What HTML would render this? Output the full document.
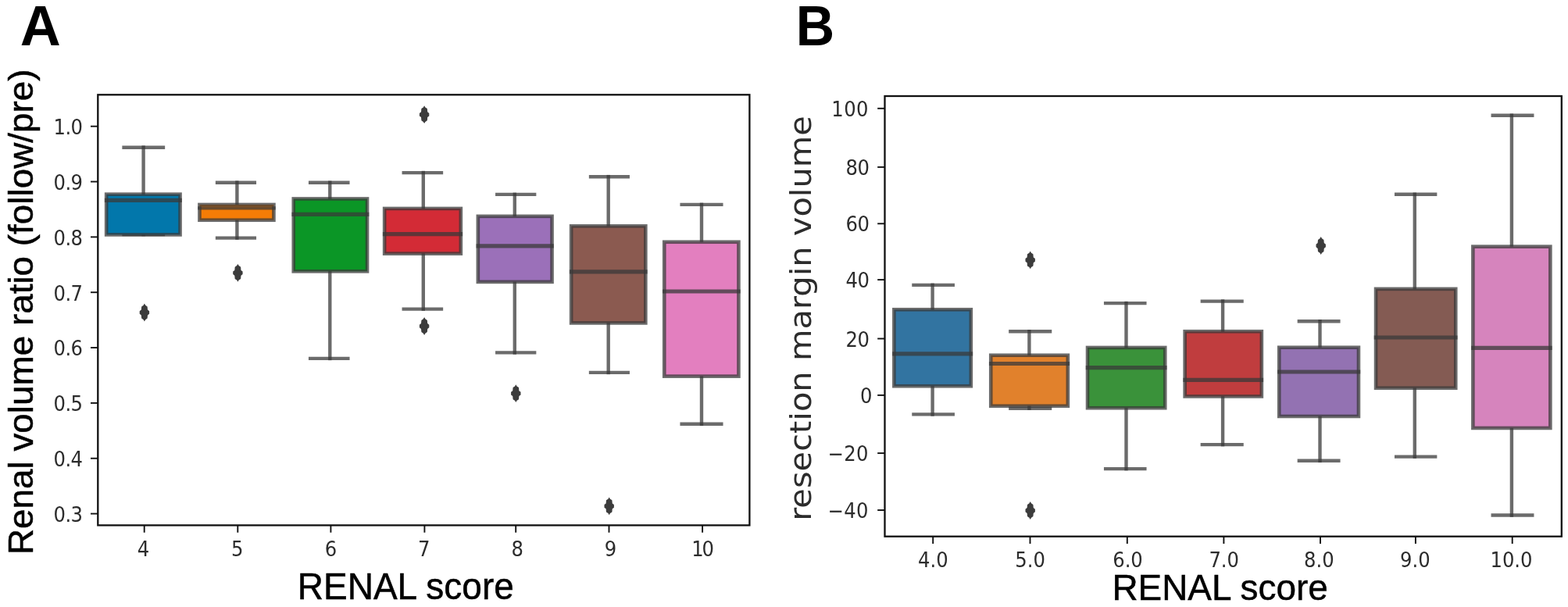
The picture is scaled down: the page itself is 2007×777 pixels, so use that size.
<!DOCTYPE html>
<html lang="en">
<head>
<meta charset="utf-8">
<title>Box plots: RENAL score</title>
<style>
html,body{margin:0;padding:0;background:#fff;}
body{width:2007px;height:777px;overflow:hidden;}
svg{display:block;}
.dj{font-family:"DejaVu Sans","Liberation Sans",sans-serif;fill:#2c2c2c;}
.ar{font-family:"Liberation Sans",Arial,Helvetica,sans-serif;fill:#000;}
.b{font-weight:bold;}
.bl{filter:blur(0.5px);}
.bf{filter:blur(0.4px);}
.bt{filter:blur(0.55px);}
</style>
</head>
<body>
<svg width="2007" height="777" viewBox="0 0 2007 777">
<rect width="2007" height="777" fill="#fff"/>
<g class="bl">
<g stroke="#3a3a3a" stroke-width="4.4" stroke-opacity="0.75" fill="none">
<line x1="183.6" y1="186.4" x2="183.6" y2="250.95"/>
<line x1="183.6" y1="298.15" x2="183.6" y2="302.3"/>
<line x1="156.35" y1="188.7" x2="211.15" y2="188.7"/>
<line x1="156.35" y1="300" x2="211.15" y2="300"/>
</g>
<rect x="136.15" y="248.65" width="94.4" height="51.8" fill="#0277ab" stroke="#3a3a3a" stroke-width="4.6" stroke-opacity="0.75"/>
<line x1="133.85" y1="256.3" x2="232.85" y2="256.3" stroke="#3a3a3a" stroke-width="5.2" stroke-opacity="0.75"/>
<path d="M184.9 388.6 L186.2 390.8 L188.6 392.4 L189 396.6 L191.1 398.2 L191.1 401.8 L189 403.4 L188.6 407.6 L186.2 409.2 L184.9 411.4 L183.6 409.2 L181.2 407.6 L180.8 403.4 L178.7 401.8 L178.7 398.2 L180.8 396.6 L181.2 392.4 L183.6 390.8 Z" fill="#3c3c3c"/>
<g stroke="#3a3a3a" stroke-width="4.4" stroke-opacity="0.75" fill="none">
<line x1="303.4" y1="231.4" x2="303.4" y2="264.25"/>
<line x1="303.4" y1="279.45" x2="303.4" y2="306.9"/>
<line x1="275.85" y1="233.7" x2="328.05" y2="233.7"/>
<line x1="275.85" y1="304.6" x2="328.05" y2="304.6"/>
</g>
<rect x="255.45" y="261.95" width="95" height="19.8" fill="#f57c06" stroke="#3a3a3a" stroke-width="4.6" stroke-opacity="0.75"/>
<line x1="253.15" y1="266.4" x2="352.75" y2="266.4" stroke="#3a3a3a" stroke-width="4.4" stroke-opacity="0.75"/>
<path d="M304.4 337.9 L305.7 340.1 L308.1 341.7 L308.5 345.9 L310.6 347.5 L310.6 351.1 L308.5 352.7 L308.1 356.9 L305.7 358.5 L304.4 360.7 L303.1 358.5 L300.7 356.9 L300.3 352.7 L298.2 351.1 L298.2 347.5 L300.3 345.9 L300.7 341.7 L303.1 340.1 Z" fill="#3c3c3c"/>
<g stroke="#3a3a3a" stroke-width="4.4" stroke-opacity="0.75" fill="none">
<line x1="422.3" y1="231.5" x2="422.3" y2="256.75"/>
<line x1="422.3" y1="345.05" x2="422.3" y2="461.2"/>
<line x1="394.95" y1="233.8" x2="447.55" y2="233.8"/>
<line x1="394.95" y1="458.9" x2="447.55" y2="458.9"/>
</g>
<rect x="375.75" y="254.45" width="94.3" height="92.9" fill="#0b9626" stroke="#3a3a3a" stroke-width="4.6" stroke-opacity="0.75"/>
<line x1="373.45" y1="274.4" x2="472.35" y2="274.4" stroke="#3a3a3a" stroke-width="5.2" stroke-opacity="0.75"/>
<g stroke="#3a3a3a" stroke-width="4.4" stroke-opacity="0.75" fill="none">
<line x1="541.8" y1="218.8" x2="541.8" y2="269.25"/>
<line x1="541.8" y1="322.35" x2="541.8" y2="397.9"/>
<line x1="514.55" y1="221.1" x2="567.15" y2="221.1"/>
<line x1="514.55" y1="395.6" x2="567.15" y2="395.6"/>
</g>
<rect x="492.15" y="266.95" width="97.7" height="57.7" fill="#d32b36" stroke="#3a3a3a" stroke-width="4.6" stroke-opacity="0.75"/>
<line x1="489.85" y1="299.6" x2="592.15" y2="299.6" stroke="#3a3a3a" stroke-width="5.2" stroke-opacity="0.75"/>
<path d="M543.1 135.3 L544.4 137.5 L546.8 139.1 L547.2 143.3 L549.3 144.9 L549.3 148.5 L547.2 150.1 L546.8 154.3 L544.4 155.9 L543.1 158.1 L541.8 155.9 L539.4 154.3 L539 150.1 L536.9 148.5 L536.9 144.9 L539 143.3 L539.4 139.1 L541.8 137.5 Z" fill="#3c3c3c"/>
<path d="M543.1 406.1 L544.4 408.3 L546.8 409.9 L547.2 414.1 L549.3 415.7 L549.3 419.3 L547.2 420.9 L546.8 425.1 L544.4 426.7 L543.1 428.9 L541.8 426.7 L539.4 425.1 L539 420.9 L536.9 419.3 L536.9 415.7 L539 414.1 L539.4 409.9 L541.8 408.3 Z" fill="#3c3c3c"/>
<g stroke="#3a3a3a" stroke-width="4.4" stroke-opacity="0.75" fill="none">
<line x1="658.8" y1="246.6" x2="658.8" y2="279.15"/>
<line x1="658.8" y1="358.55" x2="658.8" y2="453.7"/>
<line x1="634.05" y1="248.9" x2="686.35" y2="248.9"/>
<line x1="634.05" y1="451.4" x2="686.35" y2="451.4"/>
</g>
<rect x="611.85" y="276.85" width="94.7" height="84" fill="#9b70b9" stroke="#3a3a3a" stroke-width="4.6" stroke-opacity="0.75"/>
<line x1="609.55" y1="314.8" x2="708.85" y2="314.8" stroke="#3a3a3a" stroke-width="5.2" stroke-opacity="0.75"/>
<path d="M660.3 492.2 L661.6 494.4 L664 496 L664.4 500.2 L666.5 501.8 L666.5 505.4 L664.4 507 L664 511.2 L661.6 512.8 L660.3 515 L659 512.8 L656.6 511.2 L656.2 507 L654.1 505.4 L654.1 501.8 L656.2 500.2 L656.6 496 L659 494.4 Z" fill="#3c3c3c"/>
<g stroke="#3a3a3a" stroke-width="4.4" stroke-opacity="0.75" fill="none">
<line x1="778.7" y1="223.9" x2="778.7" y2="291.65"/>
<line x1="778.7" y1="411.15" x2="778.7" y2="479.2"/>
<line x1="753.85" y1="226.2" x2="805.95" y2="226.2"/>
<line x1="753.85" y1="476.9" x2="805.95" y2="476.9"/>
</g>
<rect x="731.15" y="289.35" width="95.2" height="124.1" fill="#8b5a50" stroke="#3a3a3a" stroke-width="4.6" stroke-opacity="0.75"/>
<line x1="728.85" y1="347.8" x2="828.65" y2="347.8" stroke="#3a3a3a" stroke-width="5.2" stroke-opacity="0.75"/>
<path d="M779.7 636.5 L781 638.7 L783.4 640.3 L783.8 644.5 L785.9 646.1 L785.9 649.7 L783.8 651.3 L783.4 655.5 L781 657.1 L779.7 659.3 L778.4 657.1 L776 655.5 L775.6 651.3 L773.5 649.7 L773.5 646.1 L775.6 644.5 L776 640.3 L778.4 638.7 Z" fill="#3c3c3c"/>
<g stroke="#3a3a3a" stroke-width="4.4" stroke-opacity="0.75" fill="none">
<line x1="898" y1="259.6" x2="898" y2="312.05"/>
<line x1="898" y1="479.35" x2="898" y2="545.1"/>
<line x1="870.45" y1="261.9" x2="925.55" y2="261.9"/>
<line x1="870.45" y1="542.8" x2="925.55" y2="542.8"/>
</g>
<rect x="850.25" y="309.75" width="95.2" height="171.9" fill="#e37fbf" stroke="#3a3a3a" stroke-width="4.6" stroke-opacity="0.75"/>
<line x1="847.95" y1="373" x2="947.75" y2="373" stroke="#3a3a3a" stroke-width="5.2" stroke-opacity="0.75"/>
<g stroke="#3a3a3a" stroke-width="4.4" stroke-opacity="0.75" fill="none">
<line x1="1193.6" y1="362.6" x2="1193.6" y2="398.55"/>
<line x1="1193.6" y1="491.95" x2="1193.6" y2="532.7"/>
<line x1="1167.25" y1="364.9" x2="1221.95" y2="364.9"/>
<line x1="1167.25" y1="530.4" x2="1221.95" y2="530.4"/>
</g>
<rect x="1144.35" y="396.25" width="98.5" height="98" fill="#3274a1" stroke="#3a3a3a" stroke-width="4.6" stroke-opacity="0.75"/>
<line x1="1142.05" y1="452.8" x2="1245.15" y2="452.8" stroke="#3a3a3a" stroke-width="5.2" stroke-opacity="0.75"/>
<g stroke="#3a3a3a" stroke-width="4.4" stroke-opacity="0.75" fill="none">
<line x1="1317.4" y1="422" x2="1317.4" y2="457.05"/>
<line x1="1317.4" y1="517.45" x2="1317.4" y2="525"/>
<line x1="1291.15" y1="424.3" x2="1346.25" y2="424.3"/>
<line x1="1291.15" y1="522.7" x2="1346.25" y2="522.7"/>
</g>
<rect x="1268.25" y="454.75" width="98.6" height="65" fill="#e1812c" stroke="#3a3a3a" stroke-width="4.6" stroke-opacity="0.75"/>
<line x1="1265.95" y1="465.5" x2="1369.15" y2="465.5" stroke="#3a3a3a" stroke-width="5.2" stroke-opacity="0.75"/>
<path d="M1318.7 321.5 L1320 323.7 L1322.4 325.3 L1322.8 329.5 L1324.9 331.1 L1324.9 334.7 L1322.8 336.3 L1322.4 340.5 L1320 342.1 L1318.7 344.3 L1317.4 342.1 L1315 340.5 L1314.6 336.3 L1312.5 334.7 L1312.5 331.1 L1314.6 329.5 L1315 325.3 L1317.4 323.7 Z" fill="#3c3c3c"/>
<path d="M1318.7 642.1 L1320 644.3 L1322.4 645.9 L1322.8 650.1 L1324.9 651.7 L1324.9 655.3 L1322.8 656.9 L1322.4 661.1 L1320 662.7 L1318.7 664.9 L1317.4 662.7 L1315 661.1 L1314.6 656.9 L1312.5 655.3 L1312.5 651.7 L1314.6 650.1 L1315 645.9 L1317.4 644.3 Z" fill="#3c3c3c"/>
<g stroke="#3a3a3a" stroke-width="4.4" stroke-opacity="0.75" fill="none">
<line x1="1441.5" y1="385.8" x2="1441.5" y2="447.25"/>
<line x1="1441.5" y1="519.95" x2="1441.5" y2="602.4"/>
<line x1="1412.95" y1="388.1" x2="1467.55" y2="388.1"/>
<line x1="1412.95" y1="600.1" x2="1467.55" y2="600.1"/>
</g>
<rect x="1392.05" y="444.95" width="99.2" height="77.3" fill="#3a923a" stroke="#3a3a3a" stroke-width="4.6" stroke-opacity="0.75"/>
<line x1="1389.75" y1="470.6" x2="1493.55" y2="470.6" stroke="#3a3a3a" stroke-width="5.2" stroke-opacity="0.75"/>
<g stroke="#3a3a3a" stroke-width="4.4" stroke-opacity="0.75" fill="none">
<line x1="1565.1" y1="383.3" x2="1565.1" y2="426.55"/>
<line x1="1565.1" y1="505.15" x2="1565.1" y2="571.4"/>
<line x1="1536.65" y1="385.6" x2="1591.75" y2="385.6"/>
<line x1="1536.65" y1="569.1" x2="1591.75" y2="569.1"/>
</g>
<rect x="1516.65" y="424.25" width="98.2" height="83.2" fill="#c03d3e" stroke="#3a3a3a" stroke-width="4.6" stroke-opacity="0.75"/>
<line x1="1514.35" y1="486.3" x2="1617.15" y2="486.3" stroke="#3a3a3a" stroke-width="5.2" stroke-opacity="0.75"/>
<g stroke="#3a3a3a" stroke-width="4.4" stroke-opacity="0.75" fill="none">
<line x1="1689.5" y1="409" x2="1689.5" y2="447.05"/>
<line x1="1689.5" y1="530.65" x2="1689.5" y2="592.1"/>
<line x1="1660.65" y1="411.3" x2="1715.55" y2="411.3"/>
<line x1="1660.65" y1="589.8" x2="1715.55" y2="589.8"/>
</g>
<rect x="1637.25" y="444.75" width="101.7" height="88.2" fill="#9372b2" stroke="#3a3a3a" stroke-width="4.6" stroke-opacity="0.75"/>
<line x1="1634.95" y1="476" x2="1741.25" y2="476" stroke="#3a3a3a" stroke-width="5.2" stroke-opacity="0.75"/>
<path d="M1690.7 303.1 L1692 305.3 L1694.4 306.9 L1694.8 311.1 L1696.9 312.7 L1696.9 316.3 L1694.8 317.9 L1694.4 322.1 L1692 323.7 L1690.7 325.9 L1689.4 323.7 L1687 322.1 L1686.6 317.9 L1684.5 316.3 L1684.5 312.7 L1686.6 311.1 L1687 306.9 L1689.4 305.3 Z" fill="#3c3c3c"/>
<g stroke="#3a3a3a" stroke-width="4.4" stroke-opacity="0.75" fill="none">
<line x1="1810.8" y1="246.5" x2="1810.8" y2="372.15"/>
<line x1="1810.8" y1="494.45" x2="1810.8" y2="586.9"/>
<line x1="1784.95" y1="248.8" x2="1839.35" y2="248.8"/>
<line x1="1784.95" y1="584.6" x2="1839.35" y2="584.6"/>
</g>
<rect x="1761.05" y="369.85" width="102.2" height="126.9" fill="#845b53" stroke="#3a3a3a" stroke-width="4.6" stroke-opacity="0.75"/>
<line x1="1758.75" y1="432" x2="1865.55" y2="432" stroke="#3a3a3a" stroke-width="5.2" stroke-opacity="0.75"/>
<g stroke="#3a3a3a" stroke-width="4.4" stroke-opacity="0.75" fill="none">
<line x1="1934.9" y1="145.4" x2="1934.9" y2="317.95"/>
<line x1="1934.9" y1="545.65" x2="1934.9" y2="661.8"/>
<line x1="1908.55" y1="147.7" x2="1963.45" y2="147.7"/>
<line x1="1908.55" y1="659.5" x2="1963.45" y2="659.5"/>
</g>
<rect x="1885.35" y="315.65" width="99" height="232.3" fill="#d684bd" stroke="#3a3a3a" stroke-width="4.6" stroke-opacity="0.75"/>
<line x1="1883.05" y1="445.3" x2="1986.65" y2="445.3" stroke="#3a3a3a" stroke-width="5.2" stroke-opacity="0.75"/>
</g>
<g class="bf">
<rect x="125.3" y="121.3" width="834.1" height="551.1" fill="none" stroke="#111" stroke-width="2.3"/>
<rect x="1132.5" y="123" width="866.3" height="563.7" fill="none" stroke="#111" stroke-width="2.3"/>
<g stroke="#111" stroke-width="1.9">
<line x1="116" y1="161.7" x2="125.3" y2="161.7"/>
<line x1="116" y1="232.54" x2="125.3" y2="232.54"/>
<line x1="116" y1="303.38" x2="125.3" y2="303.38"/>
<line x1="116" y1="374.22" x2="125.3" y2="374.22"/>
<line x1="116" y1="445.06" x2="125.3" y2="445.06"/>
<line x1="116" y1="515.9" x2="125.3" y2="515.9"/>
<line x1="116" y1="586.74" x2="125.3" y2="586.74"/>
<line x1="116" y1="657.58" x2="125.3" y2="657.58"/>
<line x1="184.7" y1="672.4" x2="184.7" y2="681.7"/>
<line x1="304.3" y1="672.4" x2="304.3" y2="681.7"/>
<line x1="423.4" y1="672.4" x2="423.4" y2="681.7"/>
<line x1="543.4" y1="672.4" x2="543.4" y2="681.7"/>
<line x1="660.2" y1="672.4" x2="660.2" y2="681.7"/>
<line x1="779.5" y1="672.4" x2="779.5" y2="681.7"/>
<line x1="899.1" y1="672.4" x2="899.1" y2="681.7"/>
<line x1="1123.2" y1="138.8" x2="1132.5" y2="138.8"/>
<line x1="1123.2" y1="213.9" x2="1132.5" y2="213.9"/>
<line x1="1123.2" y1="286.3" x2="1132.5" y2="286.3"/>
<line x1="1123.2" y1="358.1" x2="1132.5" y2="358.1"/>
<line x1="1123.2" y1="433.5" x2="1132.5" y2="433.5"/>
<line x1="1123.2" y1="505.9" x2="1132.5" y2="505.9"/>
<line x1="1123.2" y1="580.1" x2="1132.5" y2="580.1"/>
<line x1="1123.2" y1="653" x2="1132.5" y2="653"/>
<line x1="1194.2" y1="686.7" x2="1194.2" y2="696"/>
<line x1="1318.5" y1="686.7" x2="1318.5" y2="696"/>
<line x1="1442.8" y1="686.7" x2="1442.8" y2="696"/>
<line x1="1566.4" y1="686.7" x2="1566.4" y2="696"/>
<line x1="1690" y1="686.7" x2="1690" y2="696"/>
<line x1="1811.9" y1="686.7" x2="1811.9" y2="696"/>
<line x1="1935.7" y1="686.7" x2="1935.7" y2="696"/>
</g>
</g>
<g class="bt">
<text class="dj" font-size="27" text-anchor="end" transform="translate(105.5 172) scale(0.9 1)" letter-spacing="-0.6">1.0</text>
<text class="dj" font-size="27" text-anchor="end" transform="translate(105.5 242.84) scale(0.9 1)" letter-spacing="-0.6">0.9</text>
<text class="dj" font-size="27" text-anchor="end" transform="translate(105.5 313.68) scale(0.9 1)" letter-spacing="-0.6">0.8</text>
<text class="dj" font-size="27" text-anchor="end" transform="translate(105.5 384.52) scale(0.9 1)" letter-spacing="-0.6">0.7</text>
<text class="dj" font-size="27" text-anchor="end" transform="translate(105.5 455.36) scale(0.9 1)" letter-spacing="-0.6">0.6</text>
<text class="dj" font-size="27" text-anchor="end" transform="translate(105.5 526.2) scale(0.9 1)" letter-spacing="-0.6">0.5</text>
<text class="dj" font-size="27" text-anchor="end" transform="translate(105.5 597.04) scale(0.9 1)" letter-spacing="-0.6">0.4</text>
<text class="dj" font-size="27" text-anchor="end" transform="translate(105.5 667.88) scale(0.9 1)" letter-spacing="-0.6">0.3</text>
<text class="dj" font-size="27" text-anchor="middle" transform="translate(183.5 711.9) scale(0.9 1)">4</text>
<text class="dj" font-size="27" text-anchor="middle" transform="translate(303.7 711.9) scale(0.9 1)">5</text>
<text class="dj" font-size="27" text-anchor="middle" transform="translate(423.6 711.9) scale(0.9 1)">6</text>
<text class="dj" font-size="27" text-anchor="middle" transform="translate(542.7 711.9) scale(0.9 1)">7</text>
<text class="dj" font-size="27" text-anchor="middle" transform="translate(662.2 711.9) scale(0.9 1)">8</text>
<text class="dj" font-size="27" text-anchor="middle" transform="translate(781.5 711.9) scale(0.9 1)">9</text>
<text class="dj" font-size="27" text-anchor="middle" transform="translate(898.5 711.9) scale(0.9 1)" letter-spacing="-2.4">10</text>
<text class="dj" font-size="27" text-anchor="end" transform="translate(1112 148.8) scale(0.9 1)" letter-spacing="0.5">100</text>
<text class="dj" font-size="27" text-anchor="end" transform="translate(1112.6 223.9) scale(0.9 1)" letter-spacing="-0.4">80</text>
<text class="dj" font-size="27" text-anchor="end" transform="translate(1112.6 296.3) scale(0.9 1)" letter-spacing="-0.4">60</text>
<text class="dj" font-size="27" text-anchor="end" transform="translate(1112.6 368.1) scale(0.9 1)" letter-spacing="-0.4">40</text>
<text class="dj" font-size="27" text-anchor="end" transform="translate(1112.6 443.5) scale(0.9 1)" letter-spacing="-0.4">20</text>
<text class="dj" font-size="27" text-anchor="end" transform="translate(1116 515.9) scale(0.9 1)" letter-spacing="-0.4">0</text>
<text class="dj" font-size="27" text-anchor="end" transform="translate(1112 590.1) scale(0.9 1)" letter-spacing="0.5">−20</text>
<text class="dj" font-size="27" text-anchor="end" transform="translate(1112 663) scale(0.9 1)" letter-spacing="0.5">−40</text>
<text class="dj" font-size="27" text-anchor="middle" transform="translate(1194.4 726.3) scale(0.9 1)">4.0</text>
<text class="dj" font-size="27" text-anchor="middle" transform="translate(1318.6 726.3) scale(0.9 1)">5.0</text>
<text class="dj" font-size="27" text-anchor="middle" transform="translate(1443.5 726.3) scale(0.9 1)">6.0</text>
<text class="dj" font-size="27" text-anchor="middle" transform="translate(1566.7 726.3) scale(0.9 1)">7.0</text>
<text class="dj" font-size="27" text-anchor="middle" transform="translate(1688.3 726.3) scale(0.9 1)">8.0</text>
<text class="dj" font-size="27" text-anchor="middle" transform="translate(1811.4 726.3) scale(0.9 1)">9.0</text>
<text class="dj" font-size="27" text-anchor="middle" transform="translate(1934.5 726.3) scale(0.9 1)">10.0</text>
<text class="dj" font-size="41.6" text-anchor="middle" transform="translate(1038 407.5) rotate(-90) scale(1 0.89)">resection margin volume</text>
</g>
<text class="ar b" font-size="72" text-anchor="middle" transform="translate(51.7 58)">A</text>
<text class="ar b" font-size="72" text-anchor="middle" transform="translate(1043.4 58) scale(0.95 1)">B</text>
<text class="ar" font-size="47.8" text-anchor="middle" transform="translate(519.3 767.4) scale(0.963 1)" stroke="#000" stroke-width="0.5">RENAL score</text>
<text class="ar" font-size="47.1" text-anchor="middle" transform="translate(1561.6 768.3) scale(0.975 1)" stroke="#000" stroke-width="0.5">RENAL score</text>
<text class="ar" font-size="45.85" text-anchor="middle" transform="translate(42.4 399.3) rotate(-90) scale(1 0.97)" stroke="#000" stroke-width="0.5">Renal volume ratio (follow/pre)</text>
</svg>
</body>
</html>
